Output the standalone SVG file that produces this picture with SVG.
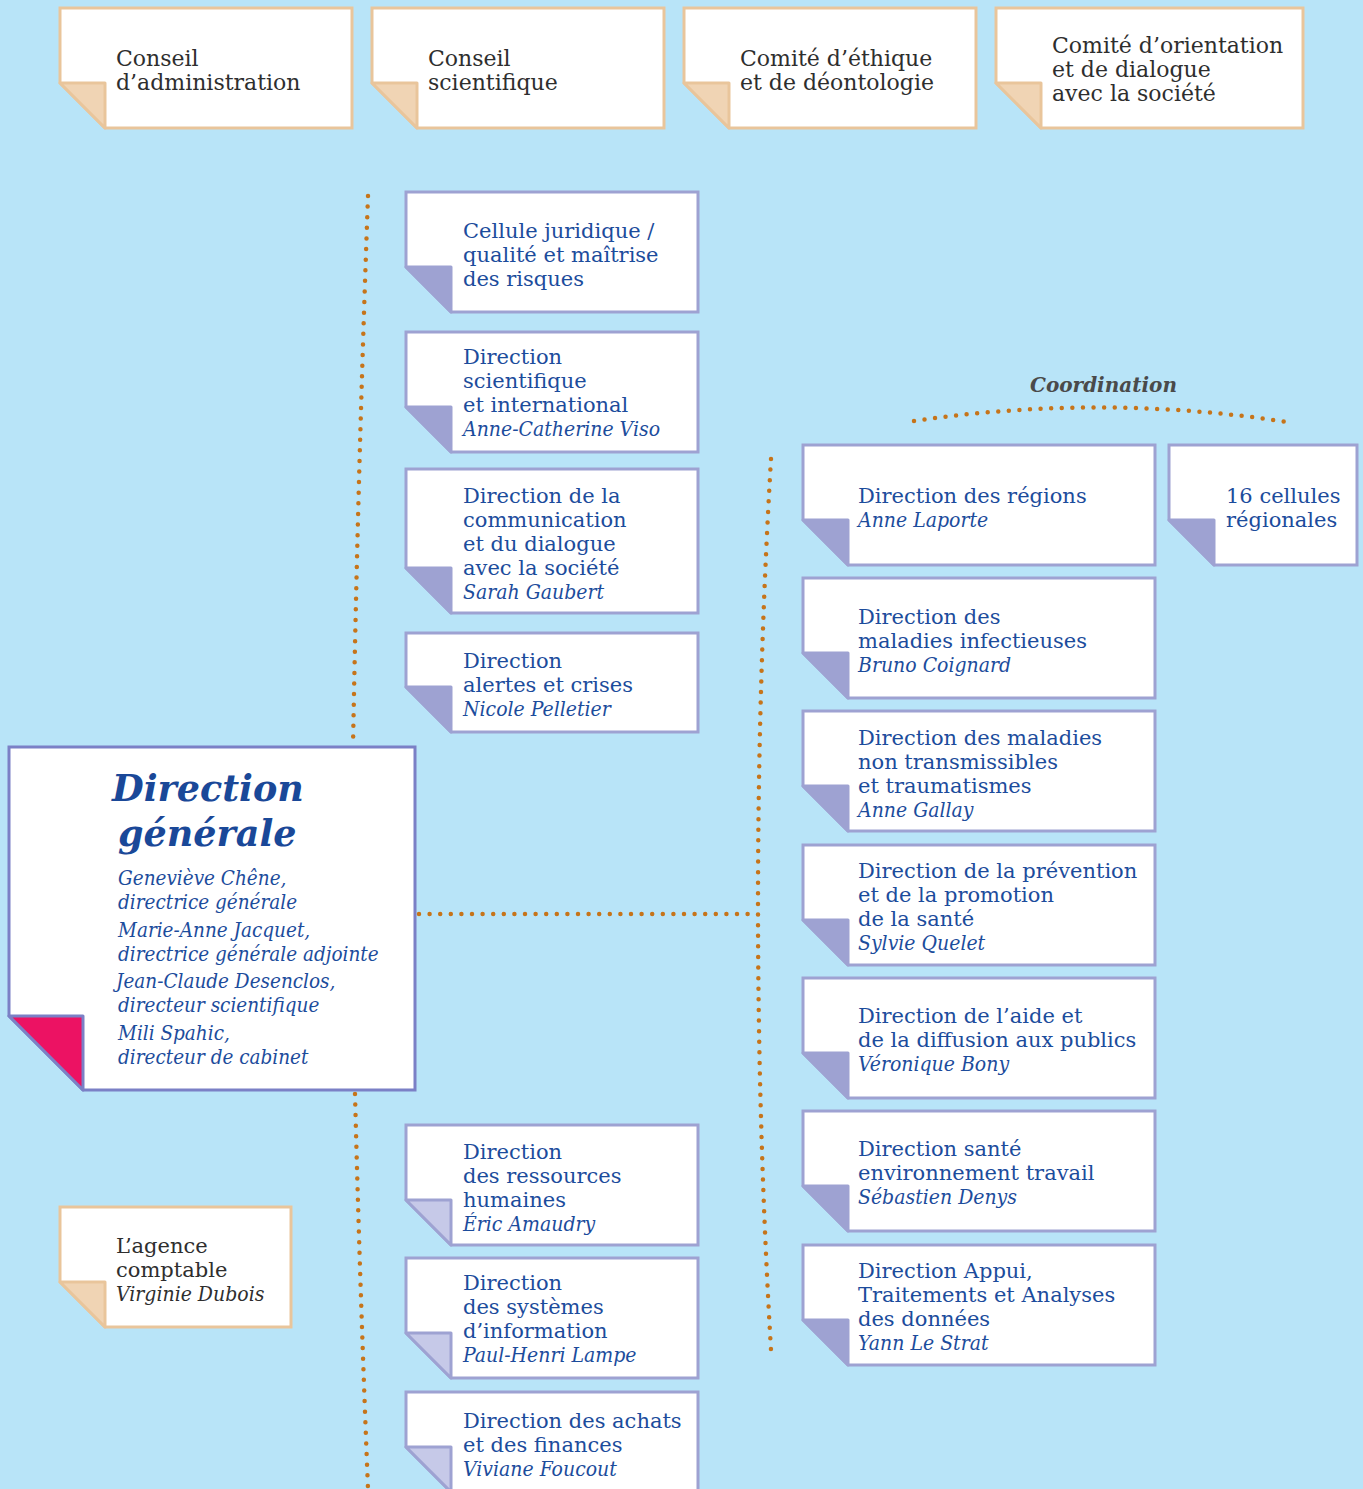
<svg xmlns="http://www.w3.org/2000/svg" width="1363" height="1489" viewBox="0 0 1363 1489">
<style>
.bg{fill:#b8e4f8}
.or{fill:#fff;stroke:#e9c59b;stroke-width:3}
.orf{fill:#f0d4b4;stroke:#e9c59b;stroke-width:3;stroke-linejoin:round}
.bl{fill:#fff;stroke:#9ea2d2;stroke-width:3}
.blf{fill:#9ea2d2;stroke:#9ea2d2;stroke-width:3;stroke-linejoin:round}
.blfl{fill:#c6c9e8;stroke:#9ea2d2;stroke-width:3;stroke-linejoin:round}
.mn{fill:#fff;stroke:#7b80c6;stroke-width:3}
.mnf{fill:#ec1263;stroke:#7b80c6;stroke-width:3;stroke-linejoin:round}
text{font-family:"DejaVu Serif","Liberation Serif",serif;font-size:21px}
.tg{fill:#2e2e2e}
.top{font-size:22px}
.tb{fill:#1c4c9c}
.it{font-family:"DejaVu Serif Condensed","DejaVu Serif",serif;font-stretch:condensed;font-style:italic}
.nm{font-size:20.5px}
.title{font-family:"DejaVu Serif","Liberation Serif",serif;font-size:36.5px;font-weight:bold;font-style:italic;fill:#1a4898}
.coord{fill:#4a4a4a;font-style:italic;font-weight:bold;font-size:20px}
.dot{fill:none;stroke:#c6741a;stroke-width:4.5;stroke-linecap:round;stroke-dasharray:0 10.6}
</style>
<rect class="bg" x="0" y="0" width="1363" height="1489"/>

<g id="connectors">
<path class="dot" d="M368,196 Q358,472 353,746"/>
<path class="dot" d="M355,1094 Q360,1290 368,1489"/>
<path class="dot" d="M419,914 H757"/>
<path class="dot" d="M771,459 Q745,905 771,1350"/>
<path class="dot" d="M914,421 Q1104,393 1294,423"/>
</g>

<g id="conseil-admin">
<path class="or" d="M60,8 H352 V128 H105 L60,83 Z"/>
<path class="orf" d="M60,83 H105 V128 Z"/>
<text class="tg top" x="116" y="66">Conseil</text>
<text class="tg top" x="116" y="90">d’administration</text>
</g>
<g id="conseil-scientifique">
<path class="or" d="M372,8 H664 V128 H417 L372,83 Z"/>
<path class="orf" d="M372,83 H417 V128 Z"/>
<text class="tg top" x="428" y="66">Conseil</text>
<text class="tg top" x="428" y="90">scientifique</text>
</g>
<g id="comite-ethique">
<path class="or" d="M684,8 H976 V128 H729 L684,83 Z"/>
<path class="orf" d="M684,83 H729 V128 Z"/>
<text class="tg top" x="740" y="66">Comité d’éthique</text>
<text class="tg top" x="740" y="90">et de déontologie</text>
</g>
<g id="comite-orientation">
<path class="or" d="M996,8 H1303 V128 H1041 L996,83 Z"/>
<path class="orf" d="M996,83 H1041 V128 Z"/>
<text class="tg top" x="1052" y="53">Comité d’orientation</text>
<text class="tg top" x="1052" y="77">et de dialogue</text>
<text class="tg top" x="1052" y="101">avec la société</text>
</g>

<g id="cellule-juridique">
<path class="bl" d="M406,192 H698 V312 H451 L406,267 Z"/>
<path class="blf" d="M406,267 H451 V312 Z"/>
<text class="tb" x="463" y="238">Cellule juridique /</text>
<text class="tb" x="463" y="262">qualité et maîtrise</text>
<text class="tb" x="463" y="286">des risques</text>
</g>
<g id="dir-scientifique">
<path class="bl" d="M406,332 H698 V452 H451 L406,407 Z"/>
<path class="blf" d="M406,407 H451 V452 Z"/>
<text class="tb" x="463" y="364">Direction</text>
<text class="tb" x="463" y="388">scientifique</text>
<text class="tb" x="463" y="412">et international</text>
<text class="tb it" x="463" y="436">Anne-Catherine Viso</text>
</g>
<g id="dir-communication">
<path class="bl" d="M406,469 H698 V613 H451 L406,568 Z"/>
<path class="blf" d="M406,568 H451 V613 Z"/>
<text class="tb" x="463" y="503">Direction de la</text>
<text class="tb" x="463" y="527">communication</text>
<text class="tb" x="463" y="551">et du dialogue</text>
<text class="tb" x="463" y="575">avec la société</text>
<text class="tb it" x="463" y="599">Sarah Gaubert</text>
</g>
<g id="dir-alertes">
<path class="bl" d="M406,633 H698 V732 H451 L406,687 Z"/>
<path class="blf" d="M406,687 H451 V732 Z"/>
<text class="tb" x="463" y="668">Direction</text>
<text class="tb" x="463" y="692">alertes et crises</text>
<text class="tb it" x="463" y="716">Nicole Pelletier</text>
</g>

<g id="direction-generale">
<path class="mn" d="M9,747 H415 V1090 H83 L9,1016 Z"/>
<path class="mnf" d="M9,1016 H83 V1090 Z"/>
<text class="title" x="112" y="801">Direction</text>
<text class="title" x="118" y="846">générale</text>
<text class="tb it nm" x="118" y="885">Geneviève Chêne,</text>
<text class="tb it nm" x="118" y="909">directrice générale</text>
<text class="tb it nm" x="118" y="937">Marie-Anne Jacquet,</text>
<text class="tb it nm" x="118" y="961">directrice générale adjointe</text>
<text class="tb it nm" x="116" y="988">Jean-Claude Desenclos,</text>
<text class="tb it nm" x="118" y="1012">directeur scientifique</text>
<text class="tb it nm" x="118" y="1040">Mili Spahic,</text>
<text class="tb it nm" x="118" y="1064">directeur de cabinet</text>
</g>

<g id="agence-comptable">
<path class="or" d="M60,1207 H291 V1327 H105 L60,1282 Z"/>
<path class="orf" d="M60,1282 H105 V1327 Z"/>
<text class="tg" x="116" y="1253">L’agence</text>
<text class="tg" x="116" y="1277">comptable</text>
<text class="tg it" x="116" y="1301">Virginie Dubois</text>
</g>

<g id="dir-rh">
<path class="bl" d="M406,1125 H698 V1245 H451 L406,1200 Z"/>
<path class="blfl" d="M406,1200 H451 V1245 Z"/>
<text class="tb" x="463" y="1159">Direction</text>
<text class="tb" x="463" y="1183">des ressources</text>
<text class="tb" x="463" y="1207">humaines</text>
<text class="tb it" x="463" y="1231">Éric Amaudry</text>
</g>
<g id="dir-si">
<path class="bl" d="M406,1258 H698 V1378 H451 L406,1333 Z"/>
<path class="blfl" d="M406,1333 H451 V1378 Z"/>
<text class="tb" x="463" y="1290">Direction</text>
<text class="tb" x="463" y="1314">des systèmes</text>
<text class="tb" x="463" y="1338">d’information</text>
<text class="tb it" x="463" y="1362">Paul-Henri Lampe</text>
</g>
<g id="dir-achats">
<path class="bl" d="M406,1392 H698 V1492 H451 L406,1447 Z"/>
<path class="blfl" d="M406,1447 H451 V1492 Z"/>
<text class="tb" x="463" y="1428">Direction des achats</text>
<text class="tb" x="463" y="1452">et des finances</text>
<text class="tb it" x="463" y="1476">Viviane Foucout</text>
</g>

<text class="coord" x="1030" y="392">Coordination</text>

<g id="dir-regions">
<path class="bl" d="M803,445 H1155 V565 H848 L803,520 Z"/>
<path class="blf" d="M803,520 H848 V565 Z"/>
<text class="tb" x="858" y="503">Direction des régions</text>
<text class="tb it" x="858" y="527">Anne Laporte</text>
</g>
<g id="cellules-regionales">
<path class="bl" d="M1169,445 H1357 V565 H1214 L1169,520 Z"/>
<path class="blf" d="M1169,520 H1214 V565 Z"/>
<text class="tb" x="1226" y="503">16 cellules</text>
<text class="tb" x="1226" y="527">régionales</text>
</g>
<g id="dir-infectieuses">
<path class="bl" d="M803,578 H1155 V698 H848 L803,653 Z"/>
<path class="blf" d="M803,653 H848 V698 Z"/>
<text class="tb" x="858" y="624">Direction des</text>
<text class="tb" x="858" y="648">maladies infectieuses</text>
<text class="tb it" x="858" y="672">Bruno Coignard</text>
</g>
<g id="dir-non-transmissibles">
<path class="bl" d="M803,711 H1155 V831 H848 L803,786 Z"/>
<path class="blf" d="M803,786 H848 V831 Z"/>
<text class="tb" x="858" y="745">Direction des maladies</text>
<text class="tb" x="858" y="769">non transmissibles</text>
<text class="tb" x="858" y="793">et traumatismes</text>
<text class="tb it" x="858" y="817">Anne Gallay</text>
</g>
<g id="dir-prevention">
<path class="bl" d="M803,845 H1155 V965 H848 L803,920 Z"/>
<path class="blf" d="M803,920 H848 V965 Z"/>
<text class="tb" x="858" y="878">Direction de la prévention</text>
<text class="tb" x="858" y="902">et de la promotion</text>
<text class="tb" x="858" y="926">de la santé</text>
<text class="tb it" x="858" y="950">Sylvie Quelet</text>
</g>
<g id="dir-aide-diffusion">
<path class="bl" d="M803,978 H1155 V1098 H848 L803,1053 Z"/>
<path class="blf" d="M803,1053 H848 V1098 Z"/>
<text class="tb" x="858" y="1023">Direction de l’aide et</text>
<text class="tb" x="858" y="1047">de la diffusion aux publics</text>
<text class="tb it" x="858" y="1071">Véronique Bony</text>
</g>
<g id="dir-sante-env">
<path class="bl" d="M803,1111 H1155 V1231 H848 L803,1186 Z"/>
<path class="blf" d="M803,1186 H848 V1231 Z"/>
<text class="tb" x="858" y="1156">Direction santé</text>
<text class="tb" x="858" y="1180">environnement travail</text>
<text class="tb it" x="858" y="1204">Sébastien Denys</text>
</g>
<g id="dir-appui">
<path class="bl" d="M803,1245 H1155 V1365 H848 L803,1320 Z"/>
<path class="blf" d="M803,1320 H848 V1365 Z"/>
<text class="tb" x="858" y="1278">Direction Appui,</text>
<text class="tb" x="858" y="1302">Traitements et Analyses</text>
<text class="tb" x="858" y="1326">des données</text>
<text class="tb it" x="858" y="1350">Yann Le Strat</text>
</g>
</svg>
